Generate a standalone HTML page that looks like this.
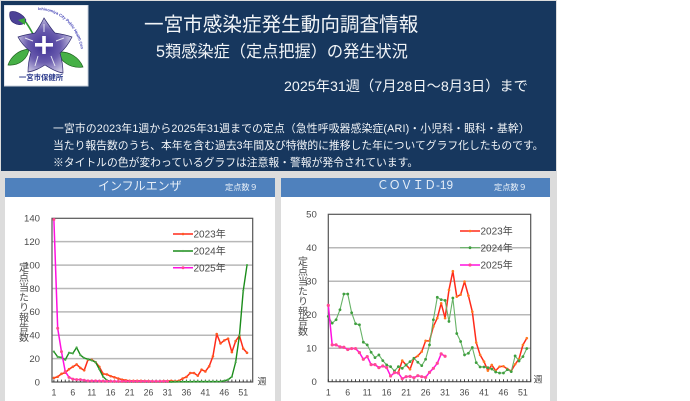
<!DOCTYPE html>
<html lang="ja">
<head>
<meta charset="utf-8">
<title>一宮市感染症発生動向調査情報</title>
<style>
html,body{margin:0;padding:0;background:#fff;}
body{width:690px;height:401px;position:relative;overflow:hidden;font-family:"Liberation Sans","Noto Sans CJK JP",sans-serif;}
.abs{position:absolute;white-space:nowrap;}
#band{left:0;top:0;width:557px;height:401px;background:#dcdcdc;}
#header{left:1px;top:1px;width:555px;height:170px;background:#17375e;}
.ht{color:#f2f5f8;font-family:"Liberation Sans","Noto Sans CJK JP",sans-serif;line-height:1;filter:blur(.25px);}
.panel{background:#fff;top:178px;height:223px;}
.bar{background:#4f81bd;top:178px;height:19px;}
.bt{color:#e6eef7;line-height:1;filter:blur(.25px);}
svg{position:absolute;left:0;top:0;}
svg text{font-family:"Liberation Sans","Noto Sans CJK JP",sans-serif;fill:#4a4a4a;}
#charts{filter:blur(.25px);}
</style>
</head>
<body>
<div class="abs" id="band"></div>
<div class="abs" id="header"></div>

<svg class="abs" style="left:4px;top:5px" width="85" height="82" viewBox="4 5 85 82">
  <defs>
    <radialGradient id="petal" cx="44" cy="46" r="30" gradientUnits="userSpaceOnUse">
      <stop offset="0" stop-color="#3d2f94"/><stop offset=".55" stop-color="#6a5cae"/><stop offset="1" stop-color="#cfcbe6"/>
    </radialGradient>
    <path id="logo-arc" d="M38 10 C58 10 76 24 81 49"/>
  </defs>
  <rect x="4" y="5" width="84" height="81" fill="#fff" stroke="#c8d0dc" stroke-width="1"/>
  <path d="M19 16 C25 19 29 27 33 34" fill="none" stroke="#2f9a2f" stroke-width="1.6"/>
  <path d="M10 12 C15 10 23 14 26 20 C25 25 19 26 14 23 C10 21 9 16 10 12Z" fill="#4c4296" stroke="#2c2570" stroke-width=".6"/>
  <path d="M18 20 L25 18 L25 25 Z" fill="#3aa83a"/>
  <path d="M8 65 C11 56 19 50 29 49 C28 58 20 66 8 65Z" fill="#46b046" stroke="#1f5f1f" stroke-width=".7"/>
  <path d="M83 67 C79 57 69 51 58 52 C60 61 70 69 83 67Z" fill="#46b046" stroke="#1f5f1f" stroke-width=".7"/>
  <path d="M44 18 C48 24 52 30 55 33 C61 34 67 35 72 37 C69 43 65 49 60 53 C62 60 63 66 63 73 C56 72 50 68 45 65 C40 68 35 71 28 72 C28 65 29 59 31 52 C26 48 21 43 18 37 C24 35 30 34 35 33 C38 29 41 24 44 18Z" fill="url(#petal)" stroke="#2e2a6e" stroke-width=".7"/>
  <path d="M25 38 L33 41 M64 38 L56 41 M35 66 L38 56 M55 66 L51 56 M44 24 L44 32" stroke="#e4e4f0" stroke-width="1" fill="none"/>
  <rect x="35" y="43" width="18" height="3.6" fill="#fff"/>
  <rect x="42.2" y="36" width="3.6" height="18" fill="#fff"/>
  <text font-size="3.9" font-weight="bold" style="fill:#3f3fb5"><textPath href="#logo-arc">Ichinomiya City Public Health Center</textPath></text>
  <text x="41" y="80" text-anchor="middle" font-size="7.4" font-weight="bold" style="fill:#2b3a8c">一宮市保健所</text>
</svg>

<div class="abs ht" style="left:144px;top:15.5px;font-size:19.6px;">一宮市感染症発生動向調査情報</div>
<div class="abs ht" style="left:156px;top:43.5px;font-size:16.2px;">5類感染症（定点把握）の発生状況</div>
<div class="abs ht" style="left:284px;top:79.5px;font-size:14.25px;">2025年31週（7月28日～8月3日）まで</div>
<div class="abs ht" style="left:53px;top:124px;font-size:10.8px;letter-spacing:.15px;">一宮市の2023年1週から2025年31週までの定点（急性呼吸器感染症(ARI)・小児科・眼科・基幹）</div>
<div class="abs ht" style="left:53px;top:141px;font-size:10.8px;">当たり報告数のうち、本年を含む過去3年間及び特徴的に推移した年についてグラフ化したものです。</div>
<div class="abs ht" style="left:53px;top:158px;font-size:10.8px;">※タイトルの色が変わっているグラフは注意報・警報が発令されています。</div>

<div class="abs panel" style="left:5px;width:270px;"></div>
<div class="abs panel" style="left:281px;width:269px;"></div>
<div class="abs bar" style="left:5px;width:270px;"></div>
<div class="abs bar" style="left:281px;width:269px;"></div>
<div class="abs bt" style="left:98px;top:180px;font-size:12px;">インフルエンザ</div>
<div class="abs bt" style="left:225px;top:184px;font-size:8.2px;">定点数９</div>
<div class="abs bt" style="left:377px;top:180px;font-size:11.8px;">ＣＯＶＩＤ-19</div>
<div class="abs bt" style="left:494px;top:184px;font-size:8.2px;">定点数９</div>

<svg id="charts" width="690" height="401" viewBox="0 0 690 401"></svg>

<script>
var xTickLabels = ['1','6','11','16','21','26','31','36','41','46','51'];
var weekCount = 53;
var seriesNames = ['2023年','2024年','2025年'];

var fluTicks = [0,20,40,60,80,100,120,140];
var flu2023 = [3.5,4.5,7,8,11,13,15,12,10,19,19,17,13,7,6.5,5,4,3,2,1.5,1,1,1,1,0.8,0.8,0.6,0.6,0.6,0.8,0.8,1,0.5,1,3,4.3,7.7,7.7,5.4,10.5,9,13.4,22,41,33,35.6,37,25.6,35,39.6,28.5,25];
var flu2024 = [26,21.5,21,19,25,24.5,29.5,23,20.5,19.5,18.5,17,11,4.5,1.5,0.5,0.3,0.2,0.2,0.1,0.1,0.1,0.1,0.1,0.1,0.1,0.1,0.1,0.1,0.1,0.1,0.1,0.2,0.3,0.3,0.3,0.3,0.4,0.4,0.4,0.4,0.4,0.4,0.4,0.5,1,2,4.5,17,40,78,100];
var flu2025 = [139,46,26,9,4,2.5,2,2,1.5,1,1,1,0.8,0.8,0.6,0.6,0.5,0.5,0.5,0.5,0.5,0.5,0.5,0.5,0.5,0.5,0.5,0.5,0.5,0.5,0.5];

var covidTicks = [0,10,20,30,40,50];
var covid2023 = [null,null,null,null,null,null,null,null,null,null,null,null,null,null,null,null,null,null,2.8,6.3,5,3.7,7,7.7,9,12.2,12.2,16.5,19,23.4,19,27.4,33,25.4,26,29.9,25.7,20.9,11.7,8,6,3.3,5,3.3,4.5,4.6,3.8,3.2,5.2,6.8,11,13];
var covid2024 = [19.5,17.5,18.5,21.5,26.2,26.2,20.6,17.3,17,11.8,11,8.8,7.2,8,6.3,5,4.5,3.2,4.5,4,5,6,7,5.8,4.8,6.7,11,18.5,25.2,24.5,24.3,18,25,14.4,12,8,8.5,10.2,5.7,4.4,4.4,4.2,3.8,2.9,2.6,2.6,3.6,3,7.7,6.2,7.5,9.9];
var covid2025 = [22.8,11,11,10.4,10.3,9.6,9.9,9.9,8.7,6.7,7.5,5.1,5.1,4.2,4.7,4.2,1.7,2.7,2.6,0.9,1.5,1.6,1.2,1.8,1.5,1.3,2.8,4,5.5,8.3,7.6];

var NS = 'http://www.w3.org/2000/svg';
var root = document.getElementById('charts');

function add(parent, tag, attrs, text) {
  var el = document.createElementNS(NS, tag);
  for (var k in attrs) el.setAttribute(k, attrs[k]);
  if (text !== undefined) el.textContent = text;
  parent.appendChild(el);
  return el;
}

function drawChart(cfg) {
  var g = add(root, 'g', {});
  
  

  function x(week) { return cfg.left + (cfg.right - cfg.left) * (week - 1 + cfg.offset) / (weekCount - 1 + 2 * cfg.offset); }
  function y(v) { return cfg.bottom - (cfg.bottom - cfg.top) * v / cfg.yMax; }

  cfg.ticks.forEach(function (t) {
    var label = add(g, 'text', {x: cfg.left - cfg.labelGap, y: y(t) + 3.4, 'text-anchor': 'end', 'font-size': 9.6}, String(t));
    
    
    if (t > 0 && t < cfg.yMax) {
      var grid = add(g, 'line', {x1: cfg.left, x2: cfg.right, y1: y(t), y2: y(t), stroke: '#b8b8b8', 'stroke-width': 1.5});
      
      
    }
  });

  var frame = add(g, 'rect', {x: cfg.left, y: cfg.top, width: cfg.right - cfg.left, height: cfg.bottom - cfg.top, fill: 'none', stroke: '#555', 'stroke-width': 1.2});
  
  

  for (var w = 1; w <= weekCount; w++) {
    var tick = add(g, 'line', {x1: x(w), x2: x(w), y1: cfg.bottom, y2: cfg.bottom - 2.4, stroke: '#333', 'stroke-width': 0.9});
    
    
  }

  xTickLabels.forEach(function (lab) {
    var xl = add(g, 'text', {x: x(Number(lab)), y: 395.5, 'text-anchor': 'middle', 'font-size': 8.8}, lab);
    
    
  });

  var unit = add(g, 'text', {x: cfg.unitX, y: cfg.unitY, 'font-size': 9}, '週');
  
  

  var title = add(g, 'text', {x: cfg.titleX, y: cfg.titleY, 'font-size': 10, 'writing-mode': 'vertical-rl', 'text-anchor': 'start'}, '定点当たり報告数');
  
  

  cfg.series.forEach(function (s, i) {
    var sg = add(g, 'g', {});
    
    
    var pts = [];
    function flush() {
      if (pts.length) add(sg, 'polyline', {points: pts.join(' '), fill: 'none', stroke: s.color, 'stroke-width': s.width, 'stroke-linejoin': 'round'});
      pts = [];
    }
    s.values.forEach(function (v, idx) {
      if (v === null) { flush(); return; }
      pts.push(x(idx + 1).toFixed(2) + ',' + y(v).toFixed(2));
    });
    flush();
    s.values.forEach(function (v, idx) {
      if (v === null) return;
      var pt = add(sg, 'circle', {cx: x(idx + 1), cy: y(v), r: s.r, fill: s.marker});
      
      
    });

    var ly = cfg.legendY[i];
    var ln = add(g, 'line', {x1: cfg.legendX, x2: cfg.legendX + 20, y1: ly, y2: ly, stroke: s.color, 'stroke-width': s.width});
    
    
    var lm = add(g, 'circle', {cx: cfg.legendX + 10, cy: ly, r: s.r, fill: s.marker});
    
    
    var lt = add(g, 'text', {x: cfg.legendX + 20.5, y: ly + 3.6, 'font-size': 10}, seriesNames[i]);
    
    
  });
}

drawChart({
  name: 'influenza-chart', left: 52, right: 252.7, top: 218.3, bottom: 382, yMax: 140, offset: 0.5, labelGap: 12,
  ticks: fluTicks, unitX: 257.5, unitY: 384.5, titleX: 22, titleY: 262,
  legendX: 173, legendY: [234, 251, 267.7],
  series: [
    {values: flu2023, color: '#ff2a1a', marker: '#ff5a20', width: 1.5, r: 1.3},
    {values: flu2024, color: '#1a8c1a', marker: '#4aa84a', width: 1.4, r: 1.1},
    {values: flu2025, color: '#ff10e0', marker: '#ff4a90', width: 1.5, r: 1.5}
  ]
});

drawChart({
  name: 'covid-chart', left: 328.3, right: 530.7, top: 214.3, bottom: 381.7, yMax: 50, offset: 0, labelGap: 11.5,
  ticks: covidTicks, unitX: 533.5, unitY: 382.5, titleX: 301, titleY: 256,
  legendX: 460, legendY: [231, 247.7, 265],
  series: [
    {values: covid2023, color: '#ff2a1a', marker: '#ff7a20', width: 1.5, r: 1.3},
    {values: covid2024, color: '#66b266', marker: '#3f9f3f', width: 1.1, r: 1.4},
    {values: covid2025, color: '#ff10e0', marker: '#ff4a90', width: 1.5, r: 1.6}
  ]
});
</script>
</body>
</html>
